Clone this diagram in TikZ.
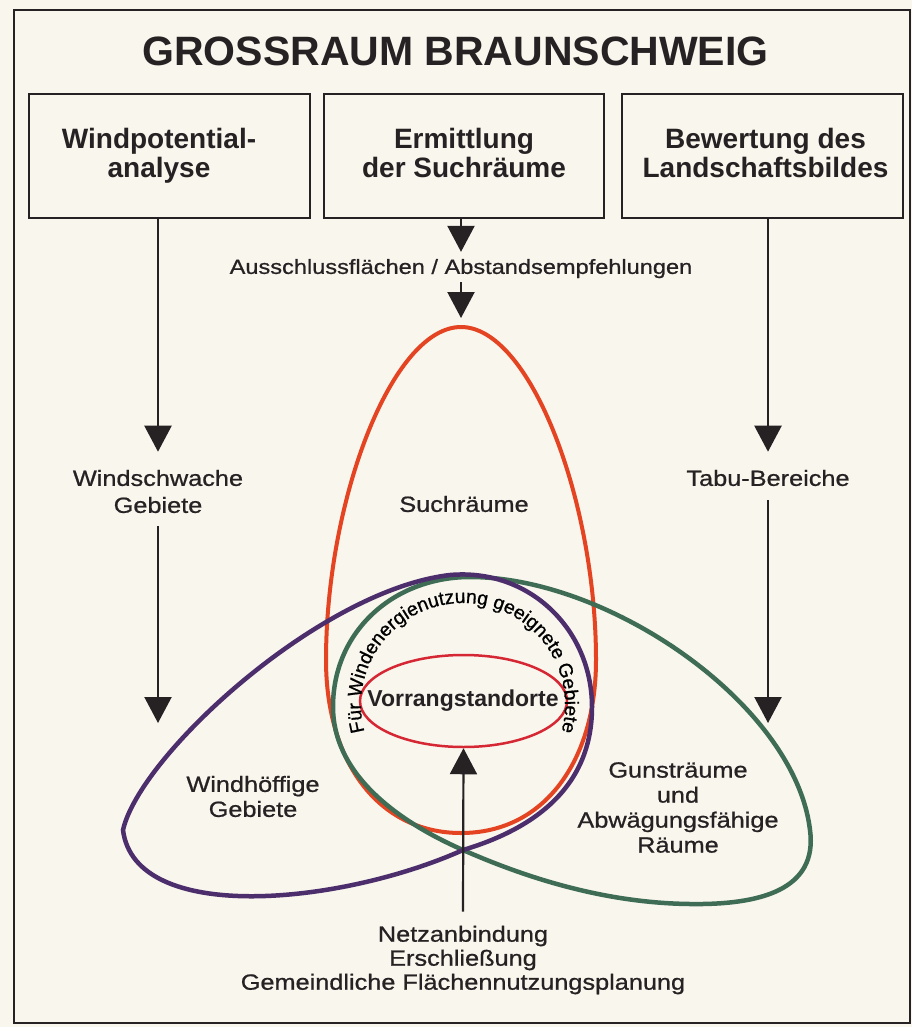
\documentclass[tikz,border=0pt]{standalone}
\usepackage{fontspec}
\setmainfont{Liberation Sans}
\newfontfamily\labfont[FakeStretch=1.15,FakeBold=0.8]{Liberation Sans}
\newfontfamily\arcfamily[FakeBold=0.8]{Liberation Sans}
\usetikzlibrary{arrows.meta,shapes.geometric,decorations.text}
\definecolor{bgc}{RGB}{248,246,237}
\definecolor{ink}{RGB}{38,33,35}
\definecolor{purp}{RGB}{76,46,108}
\definecolor{grn}{RGB}{62,108,84}
\definecolor{redo}{RGB}{228,68,34}
\definecolor{redi}{RGB}{214,40,52}
\newcommand{\arcfnt}{\arcfamily\fontsize{19.3}{22}\selectfont}
\tikzset{
  boxs/.style={draw=ink, line width=2pt, rectangle, inner sep=0pt, minimum height=124pt},
  boxtxt/.style={text=ink, inner sep=0pt, align=center, font=\bfseries\fontsize{28}{29}\selectfont},
  lab/.style={text=ink, inner sep=0pt, align=center, font=\labfont\fontsize{22}{25}\selectfont},
  arr/.style={draw=ink, line width=2.2pt, -{Triangle[length=26pt,width=27pt]}},
  blob/.style={line width=4.5pt},
}
\begin{document}
\begin{tikzpicture}[x=1pt,y=-1pt]
\useasboundingbox (0,0) rectangle (912,1027);
\fill[bgc] (0,0) rectangle (912,1027);
\draw[ink, line width=2.5pt] (14,10) rectangle (910,1023);

% title
\node[text=ink, inner sep=0pt, font=\bfseries\fontsize{41}{48}\selectfont] (title) at (455.5,51) {GROSSRAUM BRAUNSCHWEIG};

% boxes
\node[boxs, minimum width=281pt] (b1) at (169.5,156) {};
\node[boxs, minimum width=280pt] (b2) at (464,156) {};
\node[boxs, minimum width=281pt] (b3) at (762.5,156) {};
\node[boxtxt] (t1) at (159,155.7) {Windpotential-\\analyse};
\node[boxtxt] (t2) at (464,153.3) {Ermittlung\\der Suchräume};
\node[boxtxt] (t3) at (765.5,153.3) {Bewertung des\\Landschaftsbildes};

% labels
\node[lab, font=\labfont\fontsize{22}{27}\selectfont] (ws) at (158,491.5) {Windschwache\\Gebiete};
\node[lab] (tb) at (768,478) {Tabu-Bereiche};
\node[lab, font=\labfont\fontsize{20.5}{24}\selectfont] (aus) at (461,268.6) {Ausschlussflächen / Abstandsempfehlungen};

% Suchraeume egg
\coordinate (eggtop) at (461,327);
\draw[redo, line width=4pt] (eggtop) .. controls (530,327) and (596,500) .. (596,660)
  .. controls (596,760) and (545,833) .. (461,833)
  .. controls (377,833) and (326,760) .. (326,660)
  .. controls (326,500) and (392,327) .. (eggtop) -- cycle;
\node[lab] (such) at (464,504) {Suchräume};

% green teardrop
\draw[grn, blob] (333,707) .. controls (333,630) and (395,577) .. (470,577)
  .. controls (610,577) and (795,705) .. (810,830)
  .. controls (818,890) and (760,905) .. (690,904)
  .. controls (600,903) and (520,875) .. (463,850)
  .. controls (390,818) and (333,770) .. (333,707) -- cycle;

% purple teardrop
\draw[purp, blob] (123,830) .. controls (140,755) and (320,590) .. (450,575)
  .. controls (530,568) and (592,630) .. (592,707)
  .. controls (592,790) and (530,830) .. (463,850)
  .. controls (340,905) and (135,925) .. (123,830) -- cycle;

% Vorrangstandorte
\node[ellipse, draw=redi, line width=2.5pt, minimum width=207pt, minimum height=92pt, inner sep=0pt] (vr) at (463.5,701) {};
\node[text=ink, inner sep=0pt, font=\bfseries\fontsize{23}{26}\selectfont] (vrt) at (463,701) {Vorrangstandorte};

% arc text
\path[ink, decorate, decoration={text along path, text={|\arcfnt|Für Windenergienutzung geeignete Gebiete}, text align=center}]
  (463,705) ++(164:102) arc[start angle=164, end angle=376, radius=102];

\node[lab] (wh) at (253,796.5) {Windhöffige\\Gebiete};
\node[lab] (gr) at (678,807.5) {Gunsträume\\und\\Abwägungsfähige\\Räume};
\node[lab, font=\labfont\fontsize{22}{24}\selectfont] (netz) at (463,960) {Netzanbindung\\Erschließung\\Gemeindliche Flächennutzungsplanung};

% arrows
\coordinate (lt) at (158,723);
\coordinate (rt) at (768,723);
\draw[arr] (b1.south -| ws.north) -- ([yshift=18pt]ws.north);
\draw[arr] ([yshift=-13pt]ws.south) -- (lt);
\draw[arr] (b2.south -| aus.north) -- ([yshift=7pt]aus.north);
\draw[arr] ([yshift=-4pt]aus.south) -- ([yshift=9pt]eggtop);
\draw[arr] (b3.south -| tb.north) -- ([yshift=18pt]tb.north);
\draw[arr] ([yshift=-14pt]tb.south) -- (rt);
\draw[arr] ([yshift=14pt]netz.north) -- (vr.south);
\end{tikzpicture}
\end{document}
